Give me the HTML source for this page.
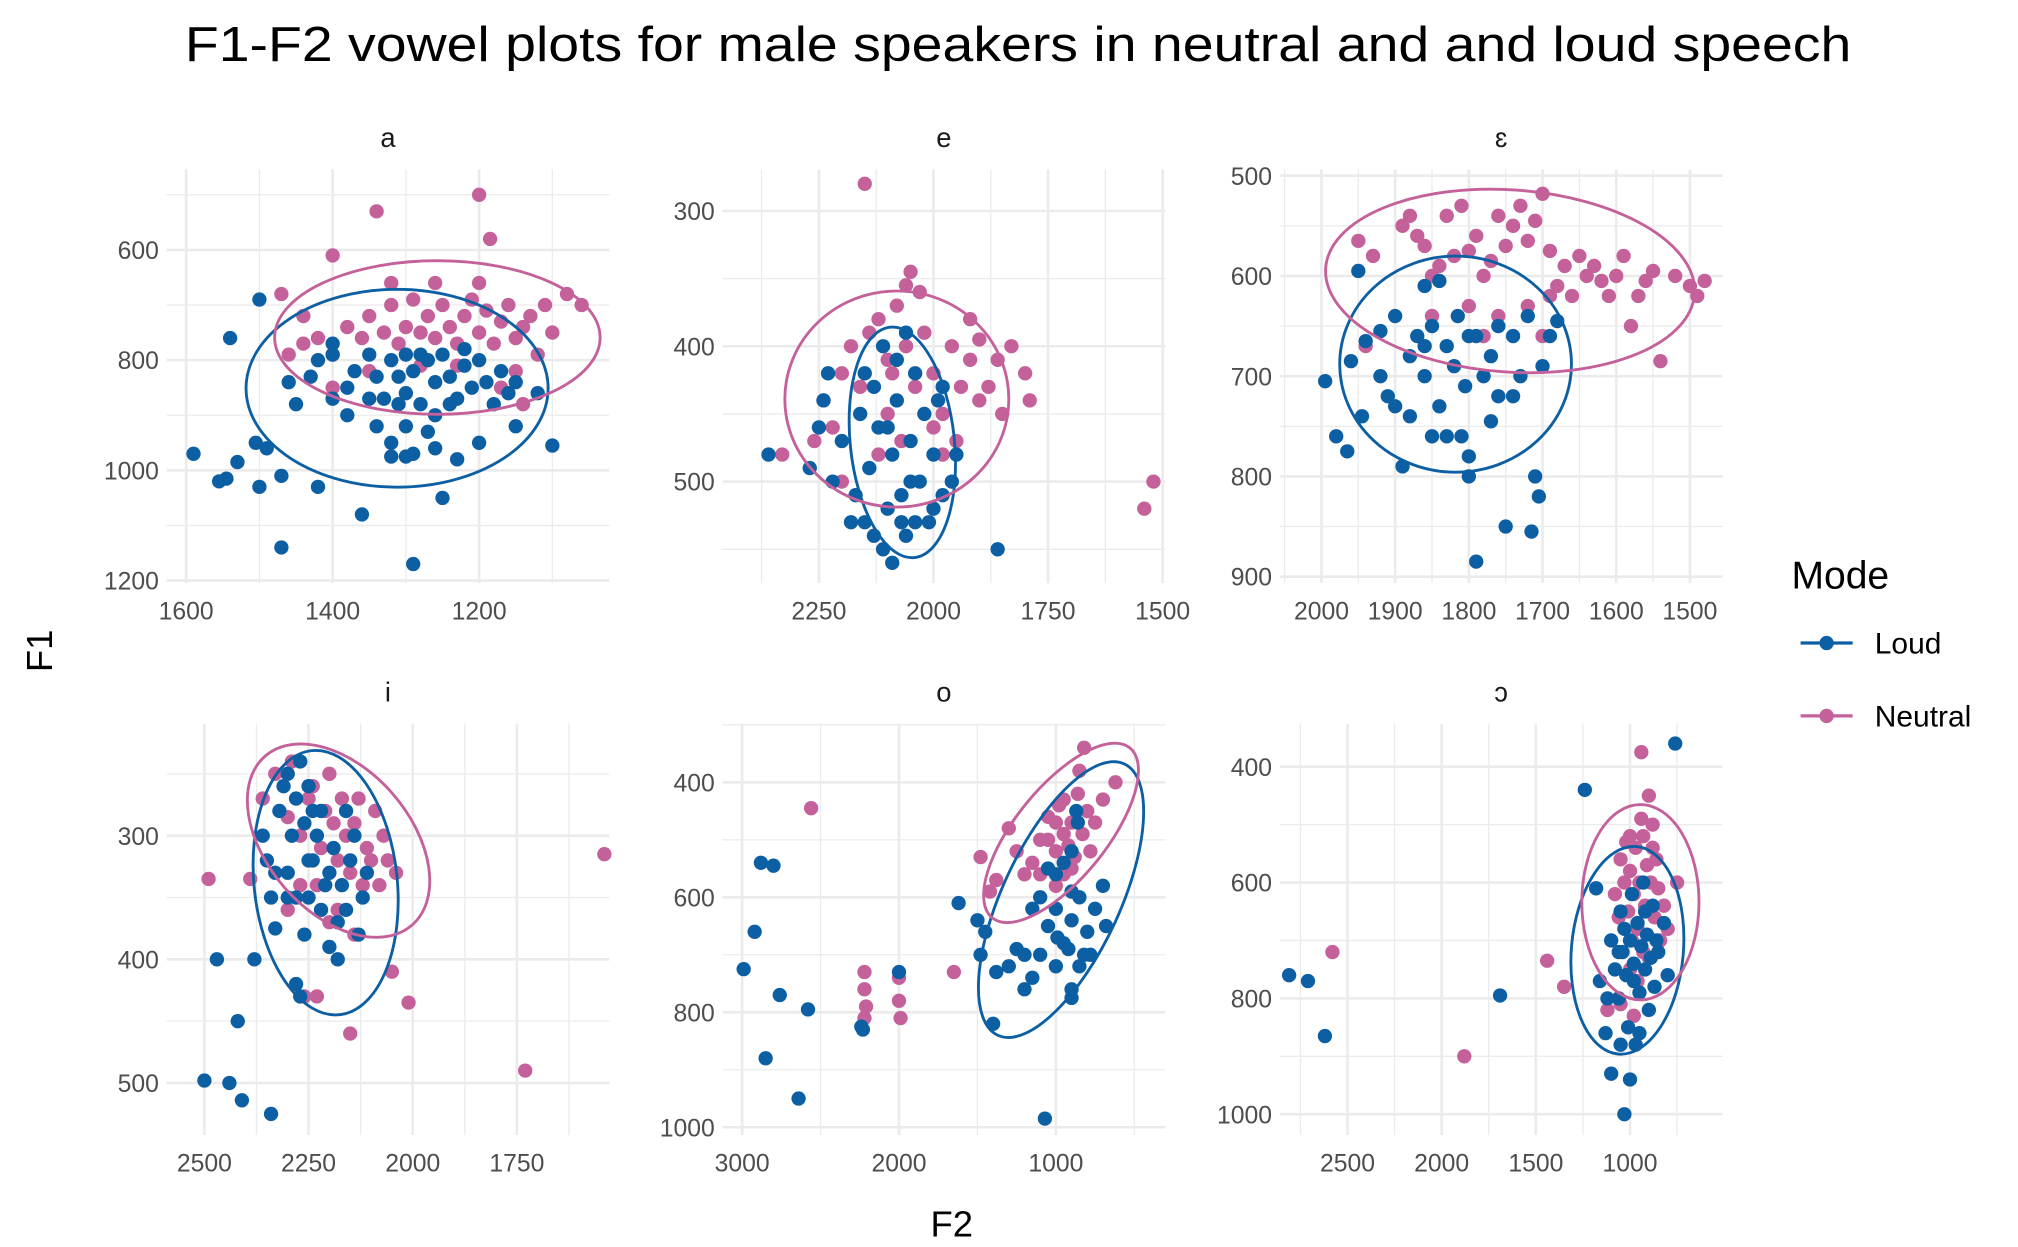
<!DOCTYPE html>
<html><head><meta charset="utf-8">
<style>
html,body{margin:0;padding:0;background:#fff;}
svg{display:block;}
text{font-family:"Liberation Sans",Arial,sans-serif;}
</style></head>
<body>
<svg id="chart" width="2018" height="1247" viewBox="0 0 1550 958" preserveAspectRatio="none" xmlns="http://www.w3.org/2000/svg">
<rect width="1550" height="958" fill="#fff"/>
<text x="782" y="47" text-anchor="middle" font-size="38" textLength="1280" lengthAdjust="spacingAndGlyphs" fill="#000">F1-F2 vowel plots for male speakers in neutral and and loud speech</text>
<text x="731" y="950" text-anchor="middle" font-size="28" fill="#000">F2</text>
<text transform="translate(40,500) rotate(-90)" text-anchor="middle" font-size="28" fill="#000">F1</text>
<g>
<text x="1376" y="452" font-size="30" fill="#000">Mode</text>
<g>
<line x1="1383" y1="494" x2="1423" y2="494" stroke="#0d5fa3" stroke-width="2.5"/><circle cx="1403" cy="494" r="5.5" fill="#0d5fa3"/>
<text x="1440" y="502" font-size="23" fill="#000">Loud</text></g>
<g>
<line x1="1383" y1="550" x2="1423" y2="550" stroke="#c4619a" stroke-width="2.5"/><circle cx="1403" cy="550" r="5.5" fill="#c4619a"/>
<text x="1440" y="558" font-size="23" fill="#000">Neutral</text></g>
</g>
<g id="panels"></g>
</svg>
<script>
const panelNames = ["a","e","ɛ","i","o","ɔ"];
const loudA=[[1590,970],[1555,1020],[1545,1015],[1530,985],[1540,760],[1500,690],[1505,950],[1500,1030],[1490,960],[1470,1010],[1470,1140],[1450,880],[1420,1030],[1400,770],[1360,1080],[1290,1170],[1250,1050],[1230,980],[1200,950],[1100,955],[1120,860],[1150,920],[1460,840],[1430,830],[1420,800],[1400,790],[1380,850],[1370,820],[1350,790],[1340,830],[1330,870],[1320,800],[1310,830],[1300,790],[1300,860],[1290,820],[1280,880],[1270,800],[1260,840],[1250,790],[1240,830],[1230,870],[1220,810],[1210,850],[1200,800],[1190,840],[1180,880],[1170,820],[1160,860],[1300,920],[1320,950],[1290,970],[1270,930],[1340,920],[1310,880],[1350,870],[1260,900],[1240,880],[1280,790],[1220,780],[1150,840],[1400,870],[1380,900],[1300,975],[1320,975],[1260,960]];
const neutA=[[1340,530],[1200,500],[1400,610],[1185,580],[1470,680],[1080,680],[1060,700],[1460,790],[1440,770],[1420,760],[1400,790],[1380,740],[1360,760],[1350,720],[1330,750],[1320,700],[1310,770],[1300,740],[1290,690],[1280,750],[1270,720],[1260,760],[1250,700],[1240,740],[1230,770],[1220,720],[1210,690],[1200,750],[1190,710],[1180,770],[1170,730],[1160,700],[1150,760],[1140,740],[1130,720],[1120,790],[1110,700],[1100,750],[1320,660],[1260,660],[1200,660],[1350,820],[1280,810],[1150,820],[1140,880],[1400,850],[1170,850],[1230,810],[1440,720]];
const loudE=[[2360,480],[2270,490],[2250,460],[2240,440],[2230,420],[2220,500],[2200,470],[2180,530],[2170,510],[2160,450],[2150,420],[2140,490],[2130,540],[2120,460],[2110,400],[2100,520],[2090,480],[2080,440],[2070,510],[2060,540],[2050,470],[2040,420],[2030,500],[2020,450],[2010,530],[2000,480],[1990,440],[1980,510],[1960,500],[1950,480],[1860,550],[2090,560],[2110,550],[2070,530],[2040,530],[2150,530],[2060,390],[2080,410],[2130,430],[2100,460],[2050,500],[2000,520],[1980,430]];
const neutE=[[2150,280],[2050,345],[2060,355],[2080,370],[2120,380],[2180,400],[2200,420],[2240,440],[2330,480],[2260,470],[2220,460],[2160,430],[2140,390],[2100,410],[2060,400],[2040,430],[2020,390],[2000,420],[1980,450],[1960,400],[1940,430],[1920,410],[1900,395],[1880,430],[1860,410],[1850,450],[1830,400],[1800,420],[1790,440],[1950,470],[2000,460],[2100,450],[2200,500],[2120,480],[2070,470],[1980,480],[1540,520],[1520,500],[2030,360],[2090,420],[1900,440],[1920,380]];
const loudEps=[[1995,705],[1980,760],[1965,775],[1960,685],[1950,595],[1945,740],[1940,665],[1920,700],[1910,720],[1900,640],[1890,790],[1880,680],[1870,660],[1860,700],[1850,650],[1840,730],[1830,670],[1820,690],[1815,640],[1805,710],[1800,800],[1800,780],[1790,660],[1780,700],[1770,680],[1760,720],[1750,850],[1740,660],[1730,700],[1720,640],[1710,800],[1705,820],[1700,690],[1690,660],[1680,645],[1715,855],[1790,885],[1850,760],[1830,760],[1880,740],[1900,730],[1840,605],[1860,610],[1810,760],[1770,745],[1740,720],[1920,655],[1860,670],[1800,660],[1760,650]];
const neutEps=[[1950,565],[1930,580],[1940,670],[1890,550],[1880,540],[1870,560],[1860,570],[1840,590],[1830,540],[1820,580],[1810,530],[1800,575],[1790,560],[1780,600],[1770,585],[1760,540],[1750,570],[1740,550],[1730,530],[1720,565],[1710,545],[1700,518],[1690,575],[1680,610],[1670,590],[1660,620],[1650,580],[1640,600],[1630,590],[1620,605],[1610,620],[1600,600],[1590,580],[1580,650],[1570,620],[1560,605],[1550,595],[1540,685],[1520,600],[1500,610],[1490,620],[1480,605],[1850,640],[1800,630],[1760,640],[1720,630],[1780,660],[1850,600],[1690,620],[1700,660]];
const loudI=[[2500,498],[2470,400],[2440,500],[2420,450],[2410,514],[2380,400],[2340,525],[2330,375],[2300,350],[2280,420],[2270,430],[2260,380],[2250,350],[2240,320],[2230,300],[2220,360],[2210,340],[2200,390],[2190,310],[2180,370],[2170,340],[2160,360],[2150,320],[2140,300],[2130,380],[2120,350],[2110,330],[2320,280],[2310,260],[2300,250],[2290,300],[2280,270],[2270,240],[2260,290],[2250,260],[2240,280],[2350,320],[2360,300],[2330,330],[2300,330],[2250,320],[2200,330],[2180,400],[2160,280],[2220,280],[2340,350],[2280,350]];
const neutI=[[2490,335],[2390,335],[2260,430],[2230,430],[2150,460],[2050,410],[2010,435],[1730,490],[1540,315],[2360,270],[2330,250],[2300,285],[2290,240],[2270,300],[2250,270],[2240,260],[2220,310],[2210,280],[2200,250],[2190,290],[2180,320],[2170,270],[2160,300],[2150,330],[2140,290],[2130,270],[2120,340],[2110,310],[2100,320],[2090,280],[2080,340],[2070,300],[2060,320],[2040,330],[2230,340],[2200,370],[2180,360],[2140,380],[2300,360],[2270,340]];
const loudO=[[2990,725],[2880,540],[2850,880],[2800,545],[2760,770],[2920,660],[2640,950],[2580,795],[2240,825],[2230,830],[2000,730],[1620,610],[1500,640],[1480,700],[1450,660],[1400,820],[1380,730],[1300,720],[1250,690],[1200,760],[1150,740],[1100,700],[1050,650],[1000,720],[950,680],[900,640],[850,600],[800,660],[750,620],[700,580],[680,650],[900,760],[850,720],[820,700],[1000,560],[950,540],[900,520],[1050,550],[1100,600],[1150,620],[900,590],[870,450],[860,470],[1000,620],[920,690],[780,700],[1070,985],[900,775],[1200,700],[990,670]];
const neutO=[[2560,445],[2220,730],[2220,760],[2210,790],[2220,810],[2000,740],[2000,780],[1990,810],[1650,730],[1480,530],[1420,590],[1380,570],[1300,480],[1250,520],[1200,560],[1150,540],[1100,500],[1050,460],[1000,520],[980,440],[950,490],[920,510],[900,470],[880,530],[860,420],[850,380],[830,490],[800,450],[780,520],[750,470],[700,430],[620,400],[1000,580],[950,560],[1100,560],[900,550],[1050,500],[1000,470],[950,430],[820,340]];
const loudOpen=[[2810,760],[2710,770],[2620,865],[1690,795],[1240,440],[1180,610],[1160,770],[1130,860],[1100,700],[1080,750],[1060,800],[1050,650],[1040,720],[1030,680],[1020,760],[1010,850],[1000,700],[990,620],[980,740],[970,880],[960,670],[950,790],[940,710],[930,600],[920,750],[910,690],[900,820],[890,730],[880,640],[870,780],[860,700],[850,720],[820,670],[800,760],[760,360],[1100,930],[1000,940],[1030,1000],[1050,880],[950,860],[1120,800],[920,650],[980,770],[1060,720]];
const neutOpen=[[2580,720],[1880,900],[1440,735],[1350,780],[1120,820],[1080,620],[1050,560],[1030,600],[1020,530],[1010,650],[1000,580],[990,700],[980,620],[970,540],[960,680],[950,600],[940,375],[930,520],[920,640],[910,570],[900,450],[890,600],[880,500],[870,660],[860,560],[850,610],[840,700],[820,640],[800,680],[750,600],[1000,750],[960,770],[930,720],[1050,810],[980,830],[900,730],[880,540],[1060,660],[940,490],[1000,520]];
const loudSeries=[loudA,loudE,loudEps,loudI,loudO,loudOpen];
const neutSeries=[neutA,neutE,neutEps,neutI,neutO,neutOpen];
// ellipse centers (F2, F1)
const loudEllCenters=[[1312,851],[2068,471],[1818,688],[2209,338],[967,604],[1014,717]];
const neutEllCenters=[[1257,759],[2080,439],[1744,605],[2178,304],[967,488],[945,634]];
const xTickSteps=[200,250,100,250,1000,500];
const yTickSteps=[200,100,100,100,200,200];

const layout=[
 {x0:128,x1:468,y0:130,y1:448,xa:[1600,143,1200,368],ya:[600,192,1200,446],le:[116,76,0],ne:[125,59,0]},
 {x0:555,x1:895,y0:130,y1:448,xa:[2250,629,1500,893],ya:[300,162,500,370],le:[40,89,-6],ne:[86,83,0]},
 {x0:983,x1:1323,y0:130,y1:448,xa:[2000,1015,1500,1298],ya:[500,135,900,443],le:[89,83,0],ne:[142,70,4]},
 {x0:128,x1:468,y0:556,y1:872,xa:[2500,157,1500,477],ya:[300,642,500,832],le:[55,102,-6],ne:[86,55,49]},
 {x0:555,x1:895,y0:556,y1:872,xa:[3000,570,1000,811],ya:[400,601,1000,866],le:[115,45,-65],ne:[84,35,-51]},
 {x0:983,x1:1323,y0:556,y1:872,xa:[2500,1035,1000,1252],ya:[400,589,1000,856],le:[43,80,5],ne:[45,75,0]}
];
const BLUE="#0d5fa3", PINK="#c4619a";
const NS="http://www.w3.org/2000/svg";
function mk(tag,attrs,parent){const e=document.createElementNS(NS,tag);for(const k in attrs)e.setAttribute(k,attrs[k]);parent.appendChild(e);return e;}
const root=document.getElementById("panels");
layout.forEach((L,p)=>{
  const xs=v=>L.xa[1]+(v-L.xa[0])*(L.xa[3]-L.xa[1])/(L.xa[2]-L.xa[0]);
  const ys=v=>L.ya[1]+(v-L.ya[0])*(L.ya[3]-L.ya[1])/(L.ya[2]-L.ya[0]);
  const xinv=px=>L.xa[0]+(px-L.xa[1])*(L.xa[2]-L.xa[0])/(L.xa[3]-L.xa[1]);
  const yinv=px=>L.ya[0]+(px-L.ya[1])*(L.ya[2]-L.ya[0])/(L.ya[3]-L.ya[1]);
  const g=mk("g",{},root);
  
  
  const st=mk("text",{x:(L.x0+L.x1)/2,y:L.y0-17,"text-anchor":"middle","font-size":"21",fill:"#1a1a1a"},g);
  st.textContent=panelNames[p];
  
  
  const grid=mk("g",{},g);
  
  
  const xa=Math.min(xinv(L.x0),xinv(L.x1)), xb=Math.max(xinv(L.x0),xinv(L.x1));
  const xs2=xTickSteps[p]/2;
  for(let v=Math.ceil(xa/xs2)*xs2; v<=xb; v+=xs2){
    const major=Math.abs(v/xTickSteps[p]-Math.round(v/xTickSteps[p]))<1e-6;
    const px=xs(v);
    mk("line",{x1:px,x2:px,y1:L.y0,y2:L.y1,stroke:"#ebebeb","stroke-width":major?2:1},grid);
    if(major){const t=mk("text",{x:px,y:L.y1+28,"text-anchor":"middle","font-size":"19",fill:"#4d4d4d"},g);t.textContent=v;
      
      }
  }
  const ya=Math.min(yinv(L.y0),yinv(L.y1)), yb=Math.max(yinv(L.y0),yinv(L.y1));
  const ys2=yTickSteps[p]/2;
  for(let v=Math.ceil(ya/ys2)*ys2; v<=yb; v+=ys2){
    const major=Math.abs(v/yTickSteps[p]-Math.round(v/yTickSteps[p]))<1e-6;
    const py=ys(v);
    mk("line",{x1:L.x0,x2:L.x1,y1:py,y2:py,stroke:"#ebebeb","stroke-width":major?2:1},grid);
    if(major){const t=mk("text",{x:L.x0-6,y:py+7,"text-anchor":"end","font-size":"19",fill:"#4d4d4d"},g);t.textContent=v;
      
      }
  }
  const drawPts=(arr,col,name)=>{
    const sg=mk("g",{fill:col},g);
    
    
    arr.forEach(d=>{const c=mk("circle",{cx:xs(d[0]),cy:ys(d[1]),r:5.5},sg);
      
      });
  };
  drawPts(neutSeries[p],PINK,'neutral-points');
  drawPts(loudSeries[p],BLUE,'loud-points');
  const drawEll=(c,e,col,name)=>{
    const el=mk("ellipse",{cx:0,cy:0,rx:e[0],ry:e[1],fill:"none",stroke:col,"stroke-width":2.2,transform:`translate(${xs(c[0])},${ys(c[1])}) rotate(${e[2]})`},g);
    
    
  };
  drawEll(loudEllCenters[p],L.le,BLUE,'loud-ellipse');
  drawEll(neutEllCenters[p],L.ne,PINK,'neutral-ellipse');
});
</script>
</body></html>
